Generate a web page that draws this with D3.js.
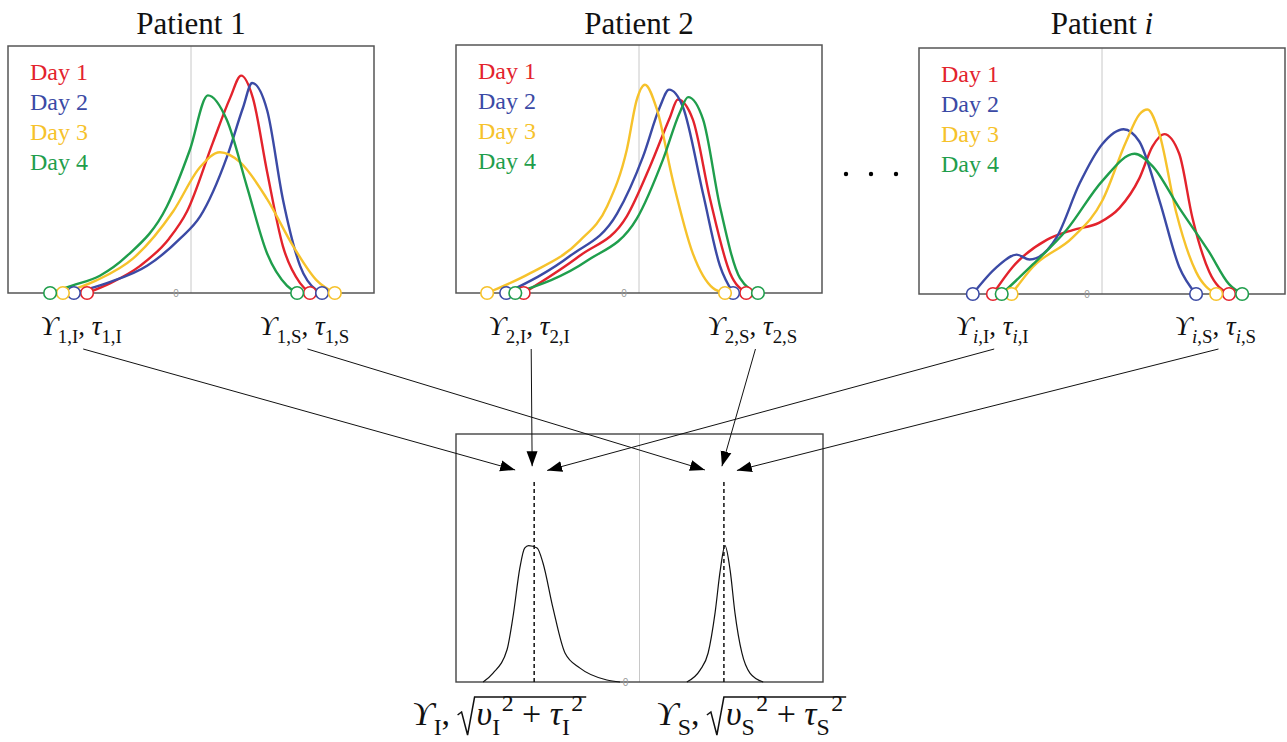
<!DOCTYPE html>
<html>
<head>
<meta charset="utf-8">
<script src="https://cdn.jsdelivr.net/npm/d3@7"></script>
<style>
  body { margin: 0; background: #fff; }
  svg { display: block; }
  text { white-space: pre; }
</style>
</head>
<body>
<div id="chart"></div>
<script>
// Dias e cores das curvas
const days = ['Day 1', 'Day 2', 'Day 3', 'Day 4'];
const dayColors = ['#e3232c', '#3b4aa5', '#f6c22b', '#1f9e4c'];
const patientIds = ['1', '2', 'i'];

// Densidades por paciente (x, densidade)
const p1Day1 = [[-2.84, 0], [-2.2, 0.04], [-1.39, 0.11], [-0.6, 0.22], [-0.11, 0.33], [0.60, 0.61], [1.07, 0.79], [1.37, 0.88], [1.69, 0.79], [2.08, 0.49], [2.51, 0.19], [2.98, 0.04], [3.25, 0]];
const p1Day2 = [[-3.20, 0], [-2.3, 0.04], [-1.20, 0.11], [-0.3, 0.22], [0.25, 0.31], [0.98, 0.55], [1.42, 0.75], [1.67, 0.85], [2.08, 0.74], [2.51, 0.38], [2.98, 0.11], [3.44, 0.01], [3.58, 0]];
const p1Day3 = [[-3.50, 0], [-2.6, 0.05], [-1.58, 0.14], [-0.49, 0.33], [0.25, 0.51], [0.79, 0.57], [1.34, 0.53], [2.08, 0.38], [2.79, 0.19], [3.44, 0.05], [3.93, 0]];
const p1Day4 = [[-3.85, 0], [-3.25, 0.03], [-2.49, 0.07], [-1.75, 0.15], [-0.66, 0.35], [-0.03, 0.58], [0.46, 0.80], [0.98, 0.70], [1.53, 0.43], [2.08, 0.16], [2.62, 0.03], [2.90, 0]];

const p2Day1 = [[-3.15, 0], [-1.62, 0.15], [-0.33, 0.31], [0.30, 0.51], [0.85, 0.71], [1.06, 0.78], [1.47, 0.70], [1.94, 0.38], [2.49, 0.08], [2.93, 0]];
const p2Day2 = [[-3.63, 0], [-1.88, 0.15], [-0.60, 0.32], [0.11, 0.55], [0.57, 0.75], [0.82, 0.82], [1.20, 0.75], [1.75, 0.40], [2.21, 0.11], [2.57, 0]];
const p2Day3 = [[-4.15, 0], [-2.97, 0.08], [-1.62, 0.21], [-0.87, 0.35], [-0.33, 0.58], [-0.06, 0.78], [0.16, 0.84], [0.49, 0.74], [0.93, 0.45], [1.47, 0.16], [2.02, 0.02], [2.35, 0]];
const p2Day4 = [[-3.38, 0], [-1.42, 0.13], [-0.06, 0.30], [0.66, 0.54], [1.12, 0.73], [1.34, 0.79], [1.75, 0.70], [2.21, 0.35], [2.76, 0.06], [3.25, 0]];

const p3Day1 = [[-2.98, 0], [-2.44, 0.11], [-1.51, 0.22], [-0.80, 0.26], [-0.07, 0.29], [0.48, 0.35], [1.02, 0.47], [1.38, 0.60], [1.70, 0.65], [2.11, 0.57], [2.47, 0.31], [2.93, 0.09], [3.47, 0]];
const p3Day2 = [[-3.53, 0], [-2.87, 0.11], [-2.33, 0.16], [-1.98, 0.14], [-1.24, 0.23], [-0.61, 0.45], [0.01, 0.61], [0.59, 0.67], [1.02, 0.62], [1.57, 0.38], [2.11, 0.11], [2.57, 0]];
const p3Day3 = [[-2.47, 0], [-1.89, 0.11], [-0.80, 0.23], [0.01, 0.38], [0.66, 0.62], [1.02, 0.73], [1.24, 0.75], [1.57, 0.65], [2.03, 0.33], [2.57, 0.09], [3.12, 0]];
const p3Day4 = [[-2.74, 0], [-1.89, 0.12], [-0.97, 0.26], [0.01, 0.46], [0.89, 0.57], [1.38, 0.52], [2.11, 0.35], [2.93, 0.17], [3.47, 0.04], [3.83, 0]];

// Distribuições agregadas (I e S) e suas médias
const pooledI = [[-4.26, 0], [-3.99, 0.036], [-3.61, 0.13], [-3.45, 0.26], [-3.26, 0.46], [-3.13, 0.54], [-3.02, 0.55], [-2.79, 0.54], [-2.63, 0.48], [-2.36, 0.30], [-2.03, 0.117], [-1.62, 0.056], [-0.89, 0.008], [-0.53, 0]];
const pooledS = [[1.29, 0], [1.65, 0.048], [1.87, 0.117], [2.06, 0.28], [2.20, 0.45], [2.33, 0.55], [2.47, 0.45], [2.60, 0.28], [2.79, 0.117], [3.01, 0.036], [3.37, 0]];
const pooledMeans = [-2.87, 2.30];
const meanLineTop = 0.81;

const patients = [
  [p1Day1, p1Day2, p1Day3, p1Day4],
  [p2Day1, p2Day2, p2Day3, p2Day4],
  [p3Day1, p3Day2, p3Day3, p3Day4],
];

// Layout
const W = 1287, H = 742;
const serif = '"Liberation Serif", "Times New Roman", serif';
const panels = [
  { left: 8, top: 46, bottom: 293 },
  { left: 456, top: 45, bottom: 293 },
  { left: 919, top: 48, bottom: 294 },
];
const panelW = 366;
const bottomBox = { left: 456, top: 434, right: 823, bottom: 682 };

const svg = d3.select('#chart').append('svg')
  .attr('width', W)
  .attr('height', H);

// Ponta de seta
svg.append('defs').append('marker')
  .attr('id', 'arrow')
  .attr('markerUnits', 'userSpaceOnUse')
  .attr('viewBox', '0 -6 15 12')
  .attr('refX', 15).attr('refY', 0)
  .attr('markerWidth', 15).attr('markerHeight', 12)
  .attr('orient', 'auto')
  .append('path')
  .attr('d', 'M0,-5.5L15,0L0,5.5Z')
  .attr('fill', '#000');

/** escreve partes de uma fórmula como tspans (sub/sup/itálico) */
function addParts(text, parts, size) {
  let cur = 0;
  parts.forEach(p => {
    const off = p.sub ? size * 0.28 : p.sup ? -size * 0.42 : 0;
    text.append('tspan')
      .attr('dy', off - cur)
      .attr('dx', p.dx || 0)
      .attr('font-size', (p.sub || p.sup) ? size * 0.7 : size)
      .attr('font-style', p.it ? 'italic' : 'normal')
      .text(p.t);
    cur = off;
  });
}

const line = (x, y) => d3.line()
  .x(d => x(d[0]))
  .y(d => y(d[1]))
  .curve(d3.curveMonotoneX);

const labelAnchors = [];

patients.forEach((curves, pi) => {
  const p = panels[pi];
  const x = d3.scaleLinear().domain([-5, 5]).range([p.left, p.left + panelW]);
  const y = d3.scaleLinear().domain([0, 1]).range([p.bottom, p.top]);
  const g = svg.append('g');

  // Título
  const title = g.append('text')
    .attr('x', x(0)).attr('y', 34)
    .attr('text-anchor', 'middle')
    .attr('font-family', serif)
    .attr('font-size', 31)
    .attr('fill', '#111');
  title.append('tspan').text('Patient ');
  title.append('tspan').attr('font-style', pi === 2 ? 'italic' : 'normal').text(patientIds[pi]);

  // Eixo vertical em 0
  g.append('line')
    .attr('x1', x(0)).attr('x2', x(0))
    .attr('y1', y(1)).attr('y2', y(0))
    .attr('stroke', '#c8c8c8').attr('stroke-width', 1);

  // Caixa
  g.append('rect')
    .attr('x', p.left).attr('y', p.top)
    .attr('width', panelW).attr('height', p.bottom - p.top)
    .attr('fill', 'none').attr('stroke', '#555').attr('stroke-width', 1.5);

  g.append('text')
    .attr('x', x(0) - 15).attr('y', y(0) + 4)
    .attr('text-anchor', 'middle')
    .attr('font-family', 'Arial, sans-serif')
    .attr('font-size', 10).attr('fill', '#999')
    .text('0');

  // Curvas
  curves.forEach((pts, di) => {
    g.append('path')
      .datum(pts)
      .attr('d', line(x, y))
      .attr('fill', 'none')
      .attr('stroke', dayColors[di])
      .attr('stroke-width', 2.4);
  });

  // Círculos nas extremidades
  curves.forEach((pts, di) => {
    g.selectAll(null)
      .data([pts[0], pts[pts.length - 1]])
      .enter().append('circle')
      .attr('cx', d => x(d[0]))
      .attr('cy', d => y(d[1]))
      .attr('r', 6.3)
      .attr('fill', '#fff')
      .attr('stroke', dayColors[di])
      .attr('stroke-width', 1.6);
  });

  // Legenda
  g.selectAll('.legend')
    .data(days)
    .enter().append('text')
    .attr('x', p.left + 22)
    .attr('y', (d, i) => p.top + 34 + i * 30)
    .attr('font-family', serif)
    .attr('font-size', 24)
    .attr('fill', (d, i) => dayColors[i])
    .text(d => d);

  // Rótulos Y e tau
  const id = patientIds[pi];
  const isIt = pi === 2;
  ['I', 'S'].forEach((k, ki) => {
    const cx = x(ki === 0 ? -3.0 : 3.1);
    const t = g.append('text')
      .attr('x', cx).attr('y', 335)
      .attr('text-anchor', 'middle')
      .attr('font-family', serif)
      .attr('fill', '#111');
    addParts(t, [
      { t: 'ϒ', it: true },
      { t: id, sub: true, it: isIt }, { t: ',' + k, sub: true },
      { t: ', ' },
      { t: 'τ', it: true },
      { t: id, sub: true, it: isIt }, { t: ',' + k, sub: true },
    ], 27);
    labelAnchors.push({ k, x: cx + (ki === 0 ? 2 : 3), y: 349 });
  });
});

// "..." entre os pacientes
svg.selectAll('.dots')
  .data([846, 871, 896])
  .enter().append('circle')
  .attr('cx', d => d).attr('cy', 174).attr('r', 2.2)
  .attr('fill', '#000');

// Painel inferior
const xB = d3.scaleLinear().domain([-5, 5]).range([bottomBox.left, bottomBox.right]);
const yB = d3.scaleLinear().domain([0, 1]).range([bottomBox.bottom, bottomBox.top]);
const gb = svg.append('g');

gb.append('line')
  .attr('x1', xB(0)).attr('x2', xB(0))
  .attr('y1', yB(1)).attr('y2', yB(0))
  .attr('stroke', '#c8c8c8');

gb.append('rect')
  .attr('x', bottomBox.left).attr('y', bottomBox.top)
  .attr('width', bottomBox.right - bottomBox.left)
  .attr('height', bottomBox.bottom - bottomBox.top)
  .attr('fill', 'none').attr('stroke', '#444').attr('stroke-width', 1.4);

gb.append('text')
  .attr('x', xB(0) - 14).attr('y', yB(0) + 4)
  .attr('text-anchor', 'middle')
  .attr('font-family', 'Arial, sans-serif')
  .attr('font-size', 10).attr('fill', '#999')
  .text('0');

[pooledI, pooledS].forEach(pts => {
  gb.append('path')
    .datum(pts)
    .attr('d', line(xB, yB))
    .attr('fill', 'none')
    .attr('stroke', '#111')
    .attr('stroke-width', 1.2);
});

gb.selectAll('.mean')
  .data(pooledMeans)
  .enter().append('line')
  .attr('x1', d => xB(d)).attr('x2', d => xB(d))
  .attr('y1', yB(0)).attr('y2', yB(meanLineTop))
  .attr('stroke', '#111').attr('stroke-width', 1.5)
  .attr('stroke-dasharray', '4,3');

// Setas dos rótulos até as médias agregadas
const tipOffsets = [[-19, 0.855], [-2, 0.87], [13, 0.853]];
const arrows = [];
['I', 'S'].forEach((k, ki) => {
  const from = labelAnchors.filter(a => a.k === k);
  from.forEach((a, i) => {
    arrows.push({
      x1: a.x, y1: a.y,
      x2: xB(pooledMeans[ki]) + tipOffsets[i][0],
      y2: yB(tipOffsets[i][1]),
    });
  });
});

svg.selectAll('.arrow')
  .data(arrows)
  .enter().append('line')
  .attr('x1', d => d.x1).attr('y1', d => d.y1)
  .attr('x2', d => d.x2).attr('y2', d => d.y2)
  .attr('stroke', '#111').attr('stroke-width', 1)
  .attr('marker-end', 'url(#arrow)');

// Rótulos inferiores com raiz quadrada
function pooledLabel(x0, k) {
  const size = 34;
  const base = 725;
  const t1 = svg.append('text')
    .attr('x', x0).attr('y', base)
    .attr('font-family', serif).attr('fill', '#111');
  addParts(t1, [{ t: 'ϒ', it: true }, { t: k, sub: true }, { t: ', ' }], size);
  const w1 = t1.node().getComputedTextLength();
  const r0 = x0 + w1 - 2;
  const t2 = svg.append('text')
    .attr('x', r0 + 20).attr('y', base)
    .attr('font-family', serif).attr('fill', '#111');
  addParts(t2, [
    { t: 'υ', it: true }, { t: k, sub: true }, { t: '2', sup: true, dx: 1.5 },
    { t: ' + ' },
    { t: 'τ', it: true }, { t: k, sub: true }, { t: '2', sup: true, dx: 1.5 },
  ], size);
  const bb = t2.node().getBBox();
  const top = base - 28;
  svg.append('path')
    .attr('d', `M${r0 + 1},${base - 10} L${r0 + 5},${base - 13} L${r0 + 11},${base + 10} L${r0 + 18},${top} L${bb.x + bb.width + 3},${top}`)
    .attr('fill', 'none').attr('stroke', '#111').attr('stroke-width', 1.5);
}
pooledLabel(412, 'I');
pooledLabel(656, 'S');
</script>
</body>
</html>
